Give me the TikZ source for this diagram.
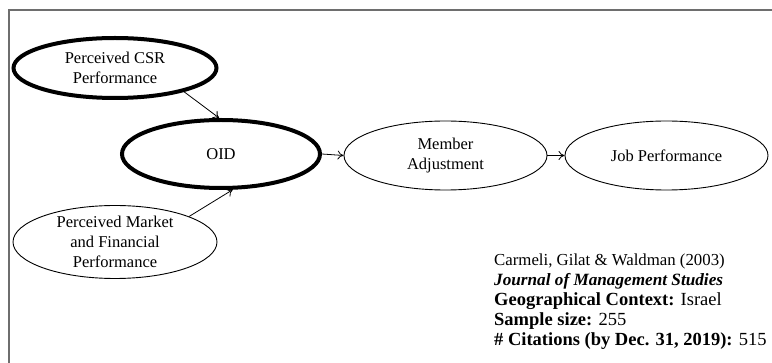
\documentclass[tikz,border=0pt]{standalone}
\usepackage{fontspec}
\setmainfont{Liberation Serif}
\usetikzlibrary{shapes.geometric,arrows.meta}
\definecolor{framegray}{HTML}{6E6E6E}
\tikzset{
  construct/.style={ellipse, draw, line width=0.9pt, inner sep=0pt, align=center,
    font=\fontsize{16.5}{20}\selectfont},
  keyconstruct/.style={construct, line width=4pt},
  link/.style={-{To[length=6pt,width=9pt]}, line width=0.8pt},
}
\begin{document}
\begin{tikzpicture}[x=1pt,y=-1pt]
\useasboundingbox (0,0) rectangle (772,363);
\draw[framegray, line width=2pt] (9,380) -- (9,10.5) -- (790,10.5);
\node[keyconstruct, minimum width=203pt, minimum height=60pt] (csr) at (115,68) {Perceived CSR\\Performance};
\node[keyconstruct, minimum width=198pt, minimum height=68pt] (oid) at (221,154) {OID};
\node[construct, minimum width=204pt, minimum height=70pt] (mkt) at (115,242) {Perceived Market\\and Financial\\Performance};
\node[construct, minimum width=203pt, minimum height=69pt] (ma) at (445.5,155.5) {Member\\Adjustment};
\node[construct, minimum width=203pt, minimum height=69pt] (jp) at (666.5,155.5) {Job Performance};
\draw[link] (csr.-19) -- (oid.93);
\draw[link] (mkt.19) -- (oid.-72);
\draw[link] (oid.east) -- (ma.west);
\draw[link] (ma.east) -- (jp.west);
\node[anchor=north west, align=left, inner sep=0pt, font=\fontsize{18.5}{20}\selectfont] (info) at (494,254)
{{\fontsize{16.8}{20}\selectfont Carmeli, Gilat \& Waldman (2003)}\\
{\fontsize{17.2}{20}\selectfont\textbf{\textit{Journal of Management Studies}}}\\
\textbf{Geographical Context:} Israel\\
\textbf{Sample size:} 255\\
\textbf{\# Citations (by Dec. 31, 2019):} 515};
\end{tikzpicture}
\end{document}
